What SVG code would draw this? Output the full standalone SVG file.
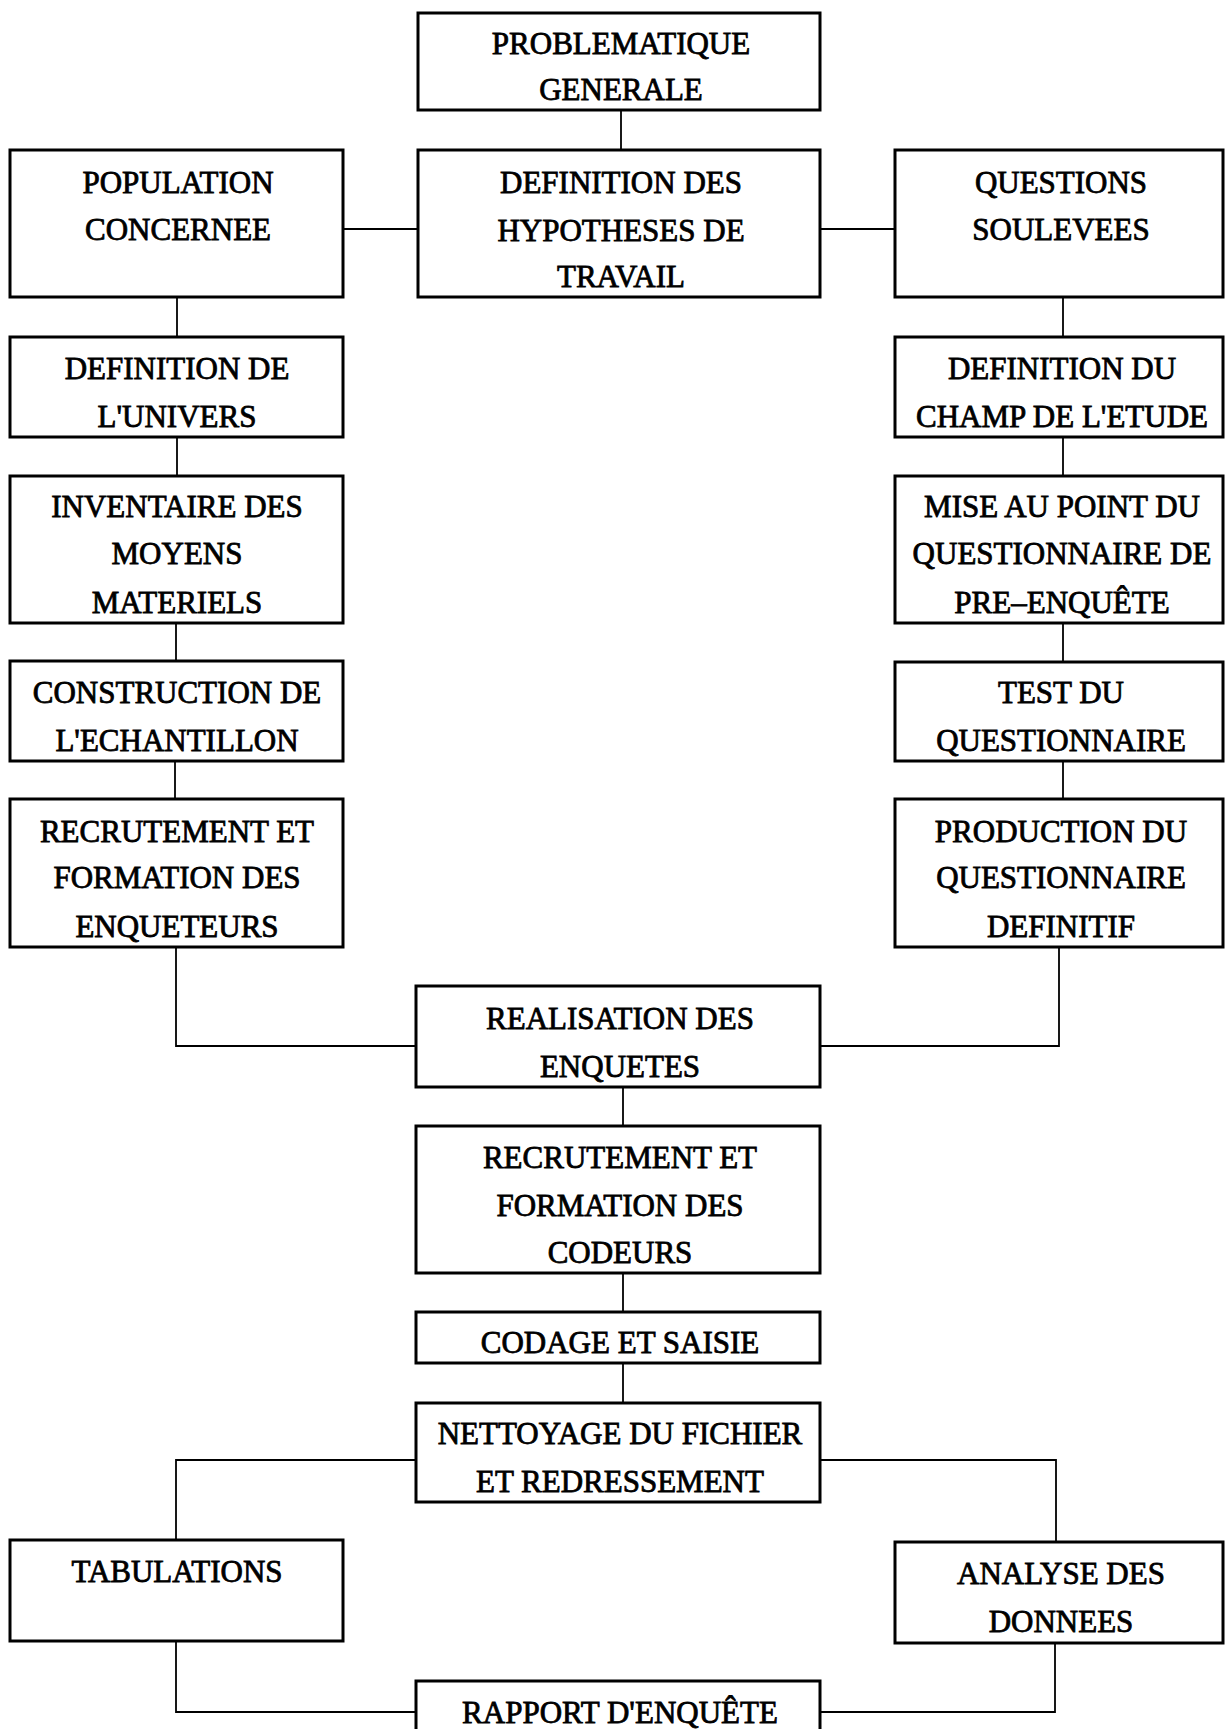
<svg xmlns="http://www.w3.org/2000/svg" width="1225" height="1729" viewBox="0 0 1225 1729">
<style>
.box{fill:#fff;stroke:#000;stroke-width:3}
.con{fill:none;stroke:#000;stroke-width:1.8}
text{font-family:"Liberation Serif","Times New Roman",serif;font-size:31px;fill:#000;stroke:#000;stroke-width:0.8;text-anchor:middle}
</style>
<rect width="1225" height="1729" fill="#fff"/>
<g id="connectors">
<path class="con" d="M621 110V150"/>
<path class="con" d="M343 229H418"/>
<path class="con" d="M820 229H895"/>
<path class="con" d="M177 297V337"/>
<path class="con" d="M1063 297V337"/>
<path class="con" d="M177 437V476"/>
<path class="con" d="M1063 437V476"/>
<path class="con" d="M176 623V661"/>
<path class="con" d="M1063 623V662"/>
<path class="con" d="M175 761V799"/>
<path class="con" d="M1063 761V799"/>
<path class="con" d="M176 947V1046H416"/>
<path class="con" d="M1059 947V1046H820"/>
<path class="con" d="M623 1087V1126"/>
<path class="con" d="M623 1273V1312"/>
<path class="con" d="M623 1363V1403"/>
<path class="con" d="M416 1460H176V1540"/>
<path class="con" d="M820 1460H1056V1542"/>
<path class="con" d="M176 1641V1712H416"/>
<path class="con" d="M1055 1643V1712H820"/>
</g>
<g id="problematique"><rect class="box" x="418" y="13" width="402" height="97"/><text x="621" y="54">PROBLEMATIQUE</text><text x="621" y="100">GENERALE</text></g>
<g id="population"><rect class="box" x="10" y="150" width="333" height="147"/><text x="178" y="193">POPULATION</text><text x="178" y="240">CONCERNEE</text></g>
<g id="hypotheses"><rect class="box" x="418" y="150" width="402" height="147"/><text x="621" y="193">DEFINITION DES</text><text x="621" y="241">HYPOTHESES DE</text><text x="621" y="287">TRAVAIL</text></g>
<g id="questions"><rect class="box" x="895" y="150" width="328" height="147"/><text x="1061" y="193">QUESTIONS</text><text x="1061" y="240">SOULEVEES</text></g>
<g id="univers"><rect class="box" x="10" y="337" width="333" height="100"/><text x="177" y="379">DEFINITION DE</text><text x="177" y="427">L'UNIVERS</text></g>
<g id="champ"><rect class="box" x="895" y="337" width="328" height="100"/><text x="1062" y="379">DEFINITION DU</text><text x="1062" y="427">CHAMP DE L'ETUDE</text></g>
<g id="inventaire"><rect class="box" x="10" y="476" width="333" height="147"/><text x="177" y="517">INVENTAIRE DES</text><text x="177" y="564">MOYENS</text><text x="177" y="613">MATERIELS</text></g>
<g id="mise-au-point"><rect class="box" x="895" y="476" width="328" height="147"/><text x="1062" y="517">MISE AU POINT DU</text><text x="1062" y="564">QUESTIONNAIRE DE</text><text x="1062" y="613">PRE–ENQUÊTE</text></g>
<g id="construction"><rect class="box" x="10" y="661" width="333" height="100"/><text x="177" y="703">CONSTRUCTION DE</text><text x="177" y="751">L'ECHANTILLON</text></g>
<g id="test"><rect class="box" x="895" y="662" width="328" height="99"/><text x="1061" y="703">TEST DU</text><text x="1061" y="751">QUESTIONNAIRE</text></g>
<g id="recrutement-enqueteurs"><rect class="box" x="10" y="799" width="333" height="148"/><text x="177" y="842">RECRUTEMENT ET</text><text x="177" y="888">FORMATION DES</text><text x="177" y="937">ENQUETEURS</text></g>
<g id="production"><rect class="box" x="895" y="799" width="328" height="148"/><text x="1061" y="842">PRODUCTION DU</text><text x="1061" y="888">QUESTIONNAIRE</text><text x="1061" y="937">DEFINITIF</text></g>
<g id="realisation"><rect class="box" x="416" y="986" width="404" height="101"/><text x="620" y="1029">REALISATION DES</text><text x="620" y="1077">ENQUETES</text></g>
<g id="recrutement-codeurs"><rect class="box" x="416" y="1126" width="404" height="147"/><text x="620" y="1168">RECRUTEMENT ET</text><text x="620" y="1216">FORMATION DES</text><text x="620" y="1263">CODEURS</text></g>
<g id="codage"><rect class="box" x="416" y="1312" width="404" height="51"/><text x="620" y="1353">CODAGE ET SAISIE</text></g>
<g id="nettoyage"><rect class="box" x="416" y="1403" width="404" height="99"/><text x="620" y="1444">NETTOYAGE DU FICHIER</text><text x="620" y="1492">ET REDRESSEMENT</text></g>
<g id="tabulations"><rect class="box" x="10" y="1540" width="333" height="101"/><text x="177" y="1582">TABULATIONS</text></g>
<g id="analyse"><rect class="box" x="895" y="1542" width="328" height="101"/><text x="1061" y="1584">ANALYSE DES</text><text x="1061" y="1632">DONNEES</text></g>
<g id="rapport"><rect class="box" x="416" y="1681" width="404" height="60"/><text x="620" y="1723">RAPPORT D'ENQUÊTE</text></g>
</svg>
